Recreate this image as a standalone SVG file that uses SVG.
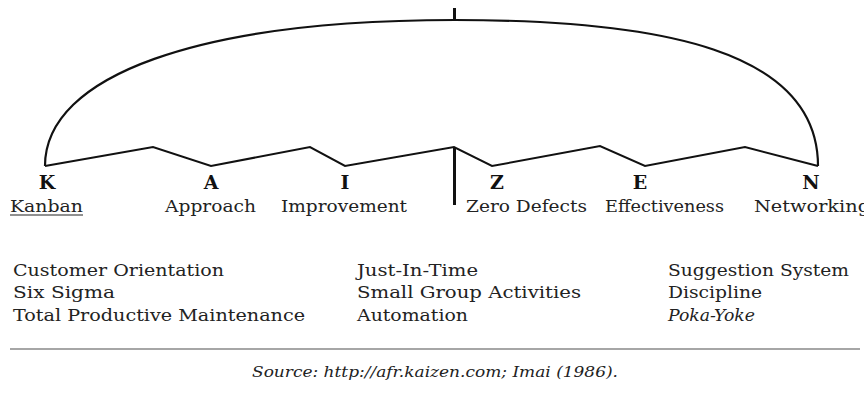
<svg xmlns="http://www.w3.org/2000/svg" width="864" height="395" viewBox="0 0 864 395">
<style>
  .ln { fill: none; stroke: #111; stroke-linejoin: miter; }
  .ltr { font-family: "DejaVu Serif", "Liberation Serif", serif; font-weight: bold; font-size: 19px; fill: #111; text-anchor: middle; }
  .lbl { font-family: "DejaVu Serif", "Liberation Serif", serif; font-size: 17.5px; fill: #222; }
  .lst { font-family: "DejaVu Serif", "Liberation Serif", serif; font-size: 17px; fill: #222; }
  .src { font-family: "DejaVu Serif", "Liberation Serif", serif; font-style: italic; font-size: 14.5px; fill: #222; }
</style>
<rect width="864" height="395" fill="#fff"/>
<g id="umbrella">
  <path class="ln" stroke-width="2.2" d="M45,166 C45,75 200,20 455,20 C660,20 818,50 818,166"/>
  <polyline class="ln" stroke-width="2" points="45,166 153,147 211,166 310,147 345,166 454,147 492,166 600,146 645,166 745,147 818,166"/>
  <line class="ln" stroke-width="3" x1="454.5" y1="8" x2="454.5" y2="21"/>
  <line class="ln" stroke-width="3" x1="454.5" y1="147" x2="454.5" y2="205"/>
</g>
<g id="node-k">
  <text class="ltr" x="47" y="189">K</text>
  <text class="lbl" x="10" y="212" textLength="73" lengthAdjust="spacingAndGlyphs">Kanban</text>
  <line x1="10" y1="215" x2="83" y2="215" stroke="#222" stroke-width="1.2"/>
</g>
<g id="node-a">
  <text class="ltr" x="211" y="189">A</text>
  <text class="lbl" x="165" y="212" textLength="91" lengthAdjust="spacingAndGlyphs">Approach</text>
</g>
<g id="node-i">
  <text class="ltr" x="345" y="189">I</text>
  <text class="lbl" x="281" y="212" textLength="126" lengthAdjust="spacingAndGlyphs">Improvement</text>
</g>
<g id="node-z">
  <text class="ltr" x="497" y="189">Z</text>
  <text class="lbl" x="466" y="212" textLength="121" lengthAdjust="spacingAndGlyphs">Zero Defects</text>
</g>
<g id="node-e">
  <text class="ltr" x="640" y="189">E</text>
  <text class="lbl" x="605" y="212" textLength="119" lengthAdjust="spacingAndGlyphs">Effectiveness</text>
</g>
<g id="node-n">
  <text class="ltr" x="811" y="189">N</text>
  <text class="lbl" x="754" y="212" textLength="116" lengthAdjust="spacingAndGlyphs">Networking</text>
</g>
<g id="list-left">
  <text class="lst" x="13" y="276" textLength="211" lengthAdjust="spacingAndGlyphs">Customer Orientation</text>
  <text class="lst" x="13" y="298" textLength="102" lengthAdjust="spacingAndGlyphs">Six Sigma</text>
  <text class="lst" x="13" y="321" textLength="292" lengthAdjust="spacingAndGlyphs">Total Productive Maintenance</text>
</g>
<g id="list-middle">
  <text class="lst" x="357" y="276" textLength="121" lengthAdjust="spacingAndGlyphs">Just-In-Time</text>
  <text class="lst" x="357" y="298" textLength="224" lengthAdjust="spacingAndGlyphs">Small Group Activities</text>
  <text class="lst" x="357" y="321" textLength="111" lengthAdjust="spacingAndGlyphs">Automation</text>
</g>
<g id="list-right">
  <text class="lst" x="668" y="276" textLength="181" lengthAdjust="spacingAndGlyphs">Suggestion System</text>
  <text class="lst" x="668" y="298" textLength="94" lengthAdjust="spacingAndGlyphs">Discipline</text>
  <text class="lst" x="668" y="321" textLength="87" lengthAdjust="spacingAndGlyphs" font-style="italic">Poka-Yoke</text>
</g>
<line x1="10" y1="349" x2="860" y2="349" stroke="#888" stroke-width="1.6"/>
<text class="src" x="252" y="377" textLength="366" lengthAdjust="spacingAndGlyphs">Source:  http://afr.kaizen.com;  Imai  (1986).</text>
</svg>
